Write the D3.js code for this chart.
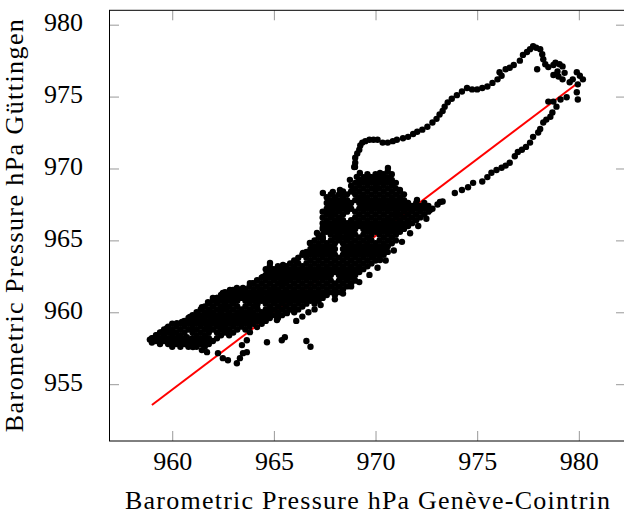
<!DOCTYPE html>
<html>
<head>
<meta charset="utf-8">
<script src="https://cdn.jsdelivr.net/npm/d3@7"></script>
<style>
  body { margin: 0; background: #fff; }
  svg { display: block; }
</style>
</head>
<body>
<div id="chart"></div>
<script>
// tick values
const geneveTicks = [960, 965, 970, 975, 980]
const gottingenTicks = [955, 960, 965, 970, 975, 980]

// red fit line, two end points [Genève, Göttingen]
const fitLine = [[959.0, 953.55], [980.0, 976.0]]

// all points are [Genève-Cointrin hPa, Göttingen hPa]
const tail = [
  [958.9, 958.1], [959.0, 957.9], [959.05, 958.2], [959.25, 958.41], [959.49, 958.62], [959.74, 958.9],
  [960.03, 958.55], [960.23, 959.25], [960.48, 959.32], [960.28, 958.2], [960.53, 957.92], [960.77, 957.72],
  [961.02, 957.58], [961.26, 957.86], [961.46, 957.37], [961.71, 957.23], [960.87, 959.67], [961.22, 959.95],
  [961.46, 960.36], [961.76, 960.71], [962.2, 960.99], [962.59, 961.34], [962.84, 961.55], [963.18, 961.69],
  [963.33, 961.2], [963.67, 960.99], [963.97, 961.34], [964.31, 961.55], [963.82, 962.03], [964.17, 962.24],
  [964.66, 962.59], [964.95, 962.8], [962.35, 960.15], [962.69, 960.36], [962.99, 960.64], [961.71, 959.94],
  [962.0, 959.46], [962.35, 958.97], [962.69, 958.76], [961.71, 958.9], [961.02, 958.76], [960.72, 958.27],
  [963.82, 958.62], [964.17, 958.97], [964.46, 959.46], [964.66, 959.94], [964.81, 960.36], [965.15, 959.46],
  [965.64, 959.94], [965.94, 960.15], [963.33, 959.25], [963.18, 959.67], [963.48, 959.94], [963.82, 960.15],
  [964.17, 960.36], [964.95, 961.55], [965.3, 962.03], [965.64, 962.24], [965.94, 962.45]
]

const clusterEdge = [
  [962.0, 960.99], [962.49, 961.34], [962.99, 961.55], [963.48, 961.69], [963.97, 962.03], [964.46, 962.45],
  [964.9, 962.94], [964.81, 963.43], [965.45, 963.29], [965.64, 962.94], [966.14, 963.43], [966.43, 964.12],
  [966.77, 964.82], [967.12, 965.52], [967.41, 965.93], [967.41, 965.17], [967.61, 966.91], [967.76, 967.6],
  [967.41, 968.3], [967.9, 968.37], [968.4, 968.3], [968.89, 968.51], [969.08, 969.42], [968.99, 970.11],
  [968.1, 965.24], [968.59, 965.03], [968.89, 965.52], [968.74, 969.21], [968.25, 968.51], [969.23, 969.69],
  [969.72, 969.42], [970.22, 969.69], [970.61, 970.04], [970.86, 968.97], [971.2, 968.51], [970.07, 968.65],
  [969.38, 968.02], [971.55, 967.6], [972.04, 967.81], [972.33, 967.33], [972.68, 967.12], [973.17, 967.67],
  [971.05, 966.91], [970.56, 966.21], [969.72, 965.03], [968.74, 964.54], [969.87, 963.84], [970.22, 963.64],
  [968.25, 966.21], [967.9, 966.91]
]

const strandsTail = [
  [959.0, 958.2], [959.2, 958.4], [959.4, 958.6], [959.6, 958.8], [959.8, 959.0], [960.0, 959.2],
  [959.2, 958.0], [959.4, 958.2], [959.6, 958.4], [959.8, 958.6], [960.0, 958.8], [960.2, 959.0], [960.4, 959.2],
  [960.6, 959.4], [960.8, 959.6], [961.0, 959.8], [961.2, 960.0], [961.4, 960.2], [961.6, 960.4], [961.8, 960.6],
  [962.0, 960.8], [962.2, 961.0], [962.4, 961.2], [962.6, 961.4]
]

const strandsUpper = [
  [959.4, 957.8], [959.6, 958.0], [959.8, 958.2], [960.0, 958.4], [960.2, 958.6], [960.4, 958.8], [960.6, 959.0],
  [960.8, 959.2], [961.0, 959.4], [961.2, 959.6], [961.4, 959.8], [961.6, 960.0], [961.8, 960.2], [962.0, 960.4],
  [962.2, 960.6], [962.4, 960.8], [962.6, 961.0], [962.8, 961.2], [963.0, 961.4], [963.2, 961.6], [964.6, 963.0],
  [964.8, 963.2], [967.4, 965.8], [967.6, 966.0], [967.8, 966.2], [968.0, 966.4], [968.2, 966.6], [968.4, 966.8],
  [968.6, 967.0], [968.8, 967.2], [969.2, 967.6], [969.4, 967.8], [969.6, 968.0], [969.8, 968.2],
  [970.0, 968.4], [970.2, 968.6], [970.4, 968.8], [970.6, 969.0], [970.8, 969.2],
  [959.8, 957.8], [960.0, 958.0], [960.2, 958.2], [960.4, 958.4], [960.6, 958.6], [960.8, 958.8], [961.0, 959.0],
  [961.2, 959.2], [961.4, 959.4], [961.6, 959.6], [961.8, 959.8], [962.0, 960.0], [962.2, 960.2], [962.4, 960.4],
  [962.6, 960.6], [962.8, 960.8], [963.0, 961.0], [963.2, 961.2], [963.4, 961.4], [963.6, 961.6], [963.8, 961.8],
  [964.0, 962.0], [964.2, 962.2], [964.4, 962.4], [964.6, 962.6], [964.8, 962.8], [965.0, 963.0], [965.2, 963.2],
  [966.8, 964.8], [967.0, 965.0], [967.2, 965.2], [967.4, 965.4], [967.6, 965.6], [967.8, 965.8], [968.0, 966.0],
  [968.2, 966.2], [968.4, 966.4], [969.0, 967.0], [969.2, 967.2], [969.4, 967.4], [969.6, 967.6], [969.8, 967.8],
  [970.0, 968.0], [970.2, 968.2], [970.4, 968.4], [970.6, 968.6], [970.8, 968.8], [971.0, 969.0],
  [960.0, 957.6], [960.2, 957.8], [960.4, 958.0], [960.6, 958.2], [961.0, 958.6], [961.2, 958.8],
  [961.4, 959.0], [961.6, 959.2], [961.8, 959.4], [962.0, 959.6], [962.2, 959.8], [962.4, 960.0], [962.6, 960.2],
  [962.8, 960.4], [963.0, 960.6], [963.2, 960.8], [963.4, 961.0], [963.6, 961.2], [963.8, 961.4], [964.0, 961.6],
  [964.2, 961.8], [964.4, 962.0], [964.6, 962.2], [964.8, 962.4], [965.0, 962.6], [965.2, 962.8], [965.4, 963.0],
  [965.6, 963.2], [965.8, 963.4], [966.0, 963.6], [966.2, 963.8], [966.4, 964.0], [966.6, 964.2], [966.8, 964.4],
  [967.0, 964.6], [967.2, 964.8], [967.4, 965.0], [967.8, 965.4], [968.0, 965.6], [968.2, 965.8],
  [968.4, 966.0], [968.6, 966.2], [968.8, 966.4], [969.0, 966.6], [969.2, 966.8], [969.4, 967.0], [969.6, 967.2],
  [969.8, 967.4], [970.0, 967.6], [970.2, 967.8], [970.4, 968.0], [970.6, 968.2], [970.8, 968.4], [971.0, 968.6],
  [960.4, 957.6], [960.6, 957.8], [960.8, 958.0], [961.0, 958.2], [961.2, 958.4], [961.4, 958.6], [961.6, 958.8],
  [961.8, 959.0], [962.0, 959.2], [962.2, 959.4], [962.4, 959.6], [962.6, 959.8], [962.8, 960.0], [963.0, 960.2],
  [963.2, 960.4], [963.6, 960.8], [963.8, 961.0], [964.0, 961.2], [964.2, 961.4], [964.4, 961.6],
  [964.6, 961.8], [964.8, 962.0], [965.0, 962.2], [965.2, 962.4], [965.4, 962.6], [965.6, 962.8], [965.8, 963.0],
  [966.0, 963.2], [966.2, 963.4], [966.6, 963.8], [966.8, 964.0], [967.0, 964.2], [967.2, 964.4],
  [967.4, 964.6], [967.6, 964.8], [967.8, 965.0], [968.0, 965.2], [968.2, 965.4], [968.4, 965.6], [968.6, 965.8],
  [968.8, 966.0], [969.0, 966.2], [969.2, 966.4], [969.4, 966.6], [969.6, 966.8], [969.8, 967.0], [970.0, 967.2],
  [970.2, 967.4], [970.4, 967.6], [970.6, 967.8], [970.8, 968.0], [971.0, 968.2], [971.2, 968.4]
]

const strandsMiddle = [
  [960.8, 957.6], [961.0, 957.8], [961.2, 958.0], [961.4, 958.2], [961.6, 958.4], [961.8, 958.6], [962.0, 958.8],
  [962.2, 959.0], [962.4, 959.2], [962.6, 959.4], [962.8, 959.6], [963.0, 959.8], [963.2, 960.0], [963.4, 960.2],
  [963.6, 960.4], [963.8, 960.6], [964.0, 960.8], [964.2, 961.0], [964.4, 961.2], [964.6, 961.4], [964.8, 961.6],
  [965.0, 961.8], [965.2, 962.0], [965.4, 962.2], [965.6, 962.4], [965.8, 962.6], [966.0, 962.8], [966.2, 963.0],
  [966.4, 963.2], [966.6, 963.4], [966.8, 963.6], [967.0, 963.8], [967.2, 964.0], [967.4, 964.2], [967.6, 964.4],
  [967.8, 964.6], [968.0, 964.8], [968.2, 965.0], [968.4, 965.2], [968.6, 965.4], [968.8, 965.6], [969.0, 965.8],
  [969.2, 966.0], [969.4, 966.2], [969.6, 966.4], [969.8, 966.6], [970.0, 966.8], [970.2, 967.0], [970.4, 967.2],
  [970.6, 967.4], [970.8, 967.6], [971.0, 967.8], [971.2, 968.0], [971.4, 968.2],
  [961.2, 957.6], [961.4, 957.8], [961.6, 958.0], [961.8, 958.2], [962.2, 958.6], [962.4, 958.8],
  [962.6, 959.0], [962.8, 959.2], [963.0, 959.4], [963.2, 959.6], [963.4, 959.8], [963.6, 960.0], [963.8, 960.2],
  [964.0, 960.4], [964.2, 960.6], [964.4, 960.8], [964.6, 961.0], [964.8, 961.2], [965.0, 961.4], [965.2, 961.6],
  [965.4, 961.8], [965.6, 962.0], [965.8, 962.2], [966.0, 962.4], [966.2, 962.6], [966.4, 962.8], [966.6, 963.0],
  [966.8, 963.2], [967.0, 963.4], [967.2, 963.6], [967.4, 963.8], [967.6, 964.0], [967.8, 964.2], [968.0, 964.4],
  [968.4, 964.8], [968.6, 965.0], [968.8, 965.2], [969.0, 965.4], [969.4, 965.8],
  [969.6, 966.0], [969.8, 966.2], [970.0, 966.4], [970.2, 966.6], [970.4, 966.8], [970.6, 967.0], [970.8, 967.2],
  [971.0, 967.4], [971.2, 967.6], [971.4, 967.8],
  [961.6, 957.6], [961.8, 957.8], [962.0, 958.0], [962.2, 958.2], [962.4, 958.4], [962.6, 958.6], [962.8, 958.8],
  [963.0, 959.0], [963.2, 959.2], [963.4, 959.4], [963.6, 959.6], [963.8, 959.8], [964.0, 960.0], [964.2, 960.2],
  [964.6, 960.6], [964.8, 960.8], [965.0, 961.0], [965.2, 961.2], [965.4, 961.4], [965.6, 961.6],
  [965.8, 961.8], [966.0, 962.0], [966.2, 962.2], [966.4, 962.4], [966.6, 962.6], [966.8, 962.8], [967.0, 963.0],
  [967.2, 963.2], [967.4, 963.4], [967.6, 963.6], [967.8, 963.8], [968.0, 964.0], [968.4, 964.4],
  [968.6, 964.6], [968.8, 964.8], [969.0, 965.0], [969.2, 965.2], [969.4, 965.4], [969.6, 965.6], [969.8, 965.8],
  [970.0, 966.0], [970.2, 966.2], [970.4, 966.4], [970.6, 966.6], [970.8, 966.8], [971.0, 967.0], [971.2, 967.2],
  [971.4, 967.4], [971.6, 967.6],
  [962.8, 958.4], [963.0, 958.6], [963.2, 958.8], [963.4, 959.0], [963.6, 959.2], [963.8, 959.4], [964.0, 959.6],
  [964.2, 959.8], [964.4, 960.0], [964.6, 960.2], [964.8, 960.4], [965.0, 960.6], [965.2, 960.8], [965.4, 961.0],
  [965.6, 961.2], [965.8, 961.4], [966.0, 961.6], [966.2, 961.8], [966.4, 962.0], [966.6, 962.2], [966.8, 962.4],
  [967.0, 962.6], [967.2, 962.8], [967.4, 963.0], [967.6, 963.2], [967.8, 963.4], [968.0, 963.6], [968.2, 963.8],
  [968.4, 964.0], [968.6, 964.2], [968.8, 964.4], [969.0, 964.6], [969.2, 964.8], [969.4, 965.0], [969.6, 965.2],
  [969.8, 965.4], [970.0, 965.6], [970.2, 965.8], [970.4, 966.0], [970.6, 966.2], [970.8, 966.4], [971.0, 966.6],
  [971.2, 966.8], [971.4, 967.0], [971.6, 967.2], [971.8, 967.4], [972.0, 967.6]
]

const strandsLower = [
  [963.6, 958.8], [963.8, 959.0], [964.0, 959.2], [964.2, 959.4], [964.4, 959.6], [964.6, 959.8], [964.8, 960.0],
  [965.0, 960.2], [965.2, 960.4], [965.4, 960.6], [965.6, 960.8], [965.8, 961.0], [966.0, 961.2], [966.2, 961.4],
  [966.4, 961.6], [966.6, 961.8], [966.8, 962.0], [967.0, 962.2], [967.2, 962.4], [967.4, 962.6], [967.6, 962.8],
  [967.8, 963.0], [968.0, 963.2], [968.2, 963.4], [968.4, 963.6], [968.6, 963.8], [968.8, 964.0], [969.0, 964.2],
  [969.2, 964.4], [969.4, 964.6], [969.6, 964.8], [969.8, 965.0], [970.2, 965.4], [970.4, 965.6],
  [970.6, 965.8], [970.8, 966.0], [971.0, 966.2], [971.2, 966.4], [971.4, 966.6], [971.6, 966.8], [971.8, 967.0],
  [972.0, 967.2], [972.2, 967.4], [972.4, 967.6],
  [964.4, 959.2], [964.6, 959.4], [964.8, 959.6], [965.0, 959.8], [965.2, 960.0], [965.4, 960.2], [965.6, 960.4],
  [965.8, 960.6], [966.0, 960.8], [966.2, 961.0], [966.4, 961.2], [966.6, 961.4], [966.8, 961.6], [967.0, 961.8],
  [967.2, 962.0], [967.4, 962.2], [967.6, 962.4], [967.8, 962.6], [968.0, 962.8], [968.2, 963.0], [968.4, 963.2],
  [968.6, 963.4], [968.8, 963.6], [969.0, 963.8], [969.2, 964.0], [969.4, 964.2], [969.6, 964.4], [969.8, 964.6],
  [970.0, 964.8], [970.2, 965.0], [970.4, 965.2], [970.6, 965.4], [970.8, 965.6], [971.0, 965.8], [971.2, 966.0],
  [971.4, 966.2], [971.6, 966.4], [971.8, 966.6], [972.0, 966.8], [972.2, 967.0], [972.4, 967.2], [972.6, 967.4],
  [965.2, 959.6], [965.4, 959.8], [965.6, 960.0], [965.8, 960.2], [966.0, 960.4], [966.2, 960.6], [966.4, 960.8],
  [966.6, 961.0], [966.8, 961.2], [967.0, 961.4], [967.2, 961.6], [967.4, 961.8], [967.6, 962.0], [967.8, 962.2],
  [968.2, 962.6], [968.4, 962.8], [968.6, 963.0], [968.8, 963.2], [969.0, 963.4], [969.2, 963.6],
  [969.4, 963.8], [969.6, 964.0], [969.8, 964.2], [970.0, 964.4], [970.2, 964.6], [970.4, 964.8], [970.6, 965.0],
  [970.8, 965.2], [971.0, 965.4], [971.2, 965.6], [971.4, 965.8], [971.6, 966.0], [971.8, 966.2], [972.0, 966.4],
  [972.2, 966.6], [972.4, 966.8], [972.6, 967.0], [972.8, 967.2],
  [966.0, 960.0], [966.2, 960.2], [966.4, 960.4], [966.6, 960.6], [966.8, 960.8], [967.0, 961.0], [967.2, 961.2],
  [967.4, 961.4], [967.6, 961.6], [967.8, 961.8], [968.0, 962.0], [968.2, 962.2], [968.4, 962.4], [968.6, 962.6],
  [968.8, 962.8], [969.0, 963.0], [969.2, 963.2], [969.4, 963.4], [969.6, 963.6], [969.8, 963.8], [970.0, 964.0],
  [970.2, 964.2], [970.4, 964.4], [970.6, 964.6], [970.8, 964.8], [971.0, 965.0],
  [967.0, 960.6], [967.2, 960.8], [967.4, 961.0], [967.6, 961.2], [967.8, 961.4], [968.0, 961.6], [968.2, 961.8],
  [968.4, 962.0], [968.6, 962.2], [968.8, 962.4], [969.0, 962.6], [969.2, 962.8], [969.4, 963.0], [969.6, 963.2],
  [969.8, 963.4], [970.0, 963.6], [970.2, 963.8], [970.4, 964.0], [970.6, 964.2],
  [968.0, 961.2], [968.2, 961.4], [968.4, 961.6], [968.6, 961.8], [968.8, 962.0], [969.0, 962.2]
]

const lowerEdge = [
  [966.1, 959.4], [966.4, 959.7], [966.7, 960.0], [967.0, 960.2], [967.3, 960.5], [968.0, 960.9], [968.4, 961.3],
  [968.8, 961.8], [969.2, 962.1], [969.7, 962.6], [970.1, 963.1], [970.5, 963.6], [970.9, 964.3], [971.3, 964.9],
  [971.7, 965.5], [972.1, 966.0], [972.5, 966.5]
]

const strandsTop = [
  [967.4, 966.2], [967.6, 966.4], [967.8, 966.6], [968.0, 966.8], [968.2, 967.0], [968.4, 967.2], [968.6, 967.4],
  [968.8, 967.6], [969.0, 967.8], [969.2, 968.0], [969.4, 968.2], [969.6, 968.4], [969.8, 968.6], [970.0, 968.8],
  [970.2, 969.0], [970.4, 969.2], [970.6, 969.4], [970.8, 969.6],
  [967.4, 966.6], [967.6, 966.8], [967.8, 967.0], [968.0, 967.2], [968.2, 967.4], [968.4, 967.6], [968.6, 967.8],
  [969.0, 968.2], [969.2, 968.4], [969.4, 968.6], [969.6, 968.8], [969.8, 969.0], [970.0, 969.2],
  [970.2, 969.4], [970.4, 969.6], [970.6, 969.8],
  [967.4, 967.0], [967.6, 967.2], [967.8, 967.4], [968.0, 967.6], [968.2, 967.8], [968.4, 968.0], [968.6, 968.2],
  [968.8, 968.4], [969.0, 968.6], [969.2, 968.8], [969.4, 969.0], [969.6, 969.2], [969.8, 969.4], [970.0, 969.6],
  [967.6, 967.6], [967.8, 967.8], [968.0, 968.0], [968.2, 968.2], [968.4, 968.4], [968.8, 968.8], [969.0, 969.0],
  [969.2, 969.2], [969.4, 969.4], [969.6, 969.6], [967.6, 968.0], [967.8, 968.2]
]

const strays = [
  [962.25, 957.16], [962.49, 956.81], [962.74, 956.67], [963.18, 956.46], [963.33, 956.81], [963.48, 957.16],
  [963.67, 957.23], [963.43, 957.72], [963.67, 958.06], [964.66, 957.92], [965.39, 958.06], [965.54, 958.27],
  [966.6, 958.0], [966.8, 957.6]
]

const loopOut = [
  [968.95, 970.1], [969.0, 970.4], [969.0, 970.75], [969.1, 971.05], [969.2, 971.3], [969.25, 971.6],
  [969.35, 971.8], [969.5, 971.9], [969.7, 972.0], [969.9, 972.0], [970.1, 972.0], [970.35, 971.8],
  [970.6, 971.8], [970.85, 971.9], [971.05, 972.0], [971.35, 972.1], [971.6, 972.2], [971.85, 972.4],
  [972.05, 972.55], [972.3, 972.7], [972.55, 972.9], [972.8, 973.2], [973.0, 973.45], [973.15, 973.75],
  [973.3, 974.0], [973.4, 974.3], [973.55, 974.6], [973.75, 974.85], [974.0, 975.1], [974.25, 975.35],
  [974.5, 975.6], [974.75, 975.5], [975.0, 975.5], [975.25, 975.6], [975.5, 975.7], [975.75, 975.95],
  [976.0, 976.2], [976.2, 976.45]
]

const loopTop = [
  [976.1, 976.7], [976.4, 976.9], [976.6, 977.0], [976.8, 977.2], [977.1, 977.5], [977.25, 977.9],
  [977.45, 978.1], [977.6, 978.3], [977.75, 978.5], [977.9, 978.4], [978.1, 978.3], [978.2, 977.95],
  [978.25, 977.6], [978.35, 977.25], [978.5, 977.05], [977.95, 976.9], [978.75, 977.2], [978.85, 977.35],
  [979.05, 977.25], [979.2, 977.1], [978.95, 976.75], [978.75, 976.5], [979.0, 976.4], [979.2, 976.2],
  [979.3, 976.65], [979.55, 976.0], [979.7, 976.2], [979.9, 976.7], [980.05, 976.45], [980.2, 976.2],
  [979.95, 975.85], [979.9, 975.3], [979.95, 974.8], [979.4, 974.95], [979.1, 974.8], [978.75, 974.65],
  [978.5, 974.65], [978.9, 974.3]
]

const loopBack = [
  [978.7, 973.9], [978.6, 973.6], [978.4, 973.4], [978.25, 973.2], [978.1, 972.75], [978.0, 972.5],
  [977.75, 972.2], [977.6, 971.8], [977.4, 971.5], [977.2, 971.3], [977.0, 971.15], [976.85, 970.85],
  [976.6, 970.4], [976.4, 970.2], [976.2, 970.05], [975.95, 969.9], [975.7, 969.7], [975.5, 969.4],
  [975.25, 969.1], [974.8, 969.0], [974.55, 968.7], [974.25, 968.5], [973.9, 968.3], [973.3, 967.7],
  [973.05, 967.5]
]

const points = [].concat(tail, clusterEdge, strandsTail, strandsUpper, strandsMiddle, strandsLower,
  lowerEdge, strandsTop, strays, loopOut, loopTop, loopBack)

const width = 624
const height = 518
const plot = { left: 109, right: 626, top: 10.3, bottom: 441 }
const fontFamily = '"Liberation Serif", "Times New Roman", serif'

const svg = d3.select('#chart')
  .append('svg')
  .attr('width', width)
  .attr('height', height)
  .style('font-family', fontFamily)

const x = d3.scaleLinear()
  .domain([956.89, 982.32])
  .range([plot.left, plot.right])

const y = d3.scaleLinear()
  .domain([951.05, 981.0])
  .range([plot.bottom, plot.top])

// ticks point inward on all four sides
const tickLen = 10

function styleAxis (g) {
  g.select('.domain').remove()
  g.selectAll('.tick line').attr('stroke', '#999').attr('stroke-width', 1)
  g.attr('font-family', null).attr('font-size', null)
  g.selectAll('.tick text').attr('fill', '#000').style('font-size', '26px')
}

svg.append('g')
  .attr('transform', `translate(0, ${plot.bottom})`)
  .call(d3.axisBottom(x).tickValues(geneveTicks).tickSize(-tickLen).tickFormat(d3.format('d')))
  .call(styleAxis)
  .call(g => g.selectAll('.tick text').attr('y', 29).attr('dy', null))

svg.append('g')
  .attr('transform', `translate(0, ${plot.top})`)
  .call(d3.axisTop(x).tickValues(geneveTicks).tickSize(-tickLen).tickFormat(''))
  .call(styleAxis)

svg.append('g')
  .attr('transform', `translate(${plot.left}, 0)`)
  .call(d3.axisLeft(y).tickValues(gottingenTicks).tickSize(-tickLen).tickFormat(d3.format('d')))
  .call(styleAxis)
  .call(g => g.selectAll('.tick text').attr('x', -26).attr('dy', 6))

svg.append('g')
  .attr('transform', `translate(${plot.right}, 0)`)
  .call(d3.axisRight(y).tickValues(gottingenTicks).tickSize(-tickLen).tickFormat(''))
  .call(styleAxis)

// frame
svg.append('rect')
  .attr('x', plot.left + 0.5)
  .attr('y', plot.top)
  .attr('width', plot.right - plot.left)
  .attr('height', plot.bottom - plot.top)
  .attr('fill', 'none')
  .attr('stroke', '#000')
  .attr('stroke-width', 1)

// fit line under the dots
svg.append('path')
  .datum(fitLine)
  .attr('d', d3.line().x(d => x(d[0])).y(d => y(d[1])))
  .attr('stroke', '#ff0000')
  .attr('stroke-width', 2)
  .attr('fill', 'none')

svg.append('g')
  .selectAll('circle')
  .data(points)
  .join('circle')
  .attr('cx', d => x(d[0]))
  .attr('cy', d => y(d[1]))
  .attr('r', 3.2)
  .attr('fill', '#000')

// axis labels
svg.append('text')
  .attr('x', (plot.left + plot.right) / 2)
  .attr('y', 509)
  .attr('text-anchor', 'middle')
  .attr('font-size', 26)
  .attr('textLength', 485)
  .text('Barometric Pressure hPa Genève-Cointrin')

svg.append('text')
  .attr('transform', `translate(23, ${(plot.top + plot.bottom) / 2}) rotate(-90)`)
  .attr('text-anchor', 'middle')
  .attr('font-size', 26)
  .attr('textLength', 413)
  .text('Barometric Pressure hPa Güttingen')
</script>
</body>
</html>
